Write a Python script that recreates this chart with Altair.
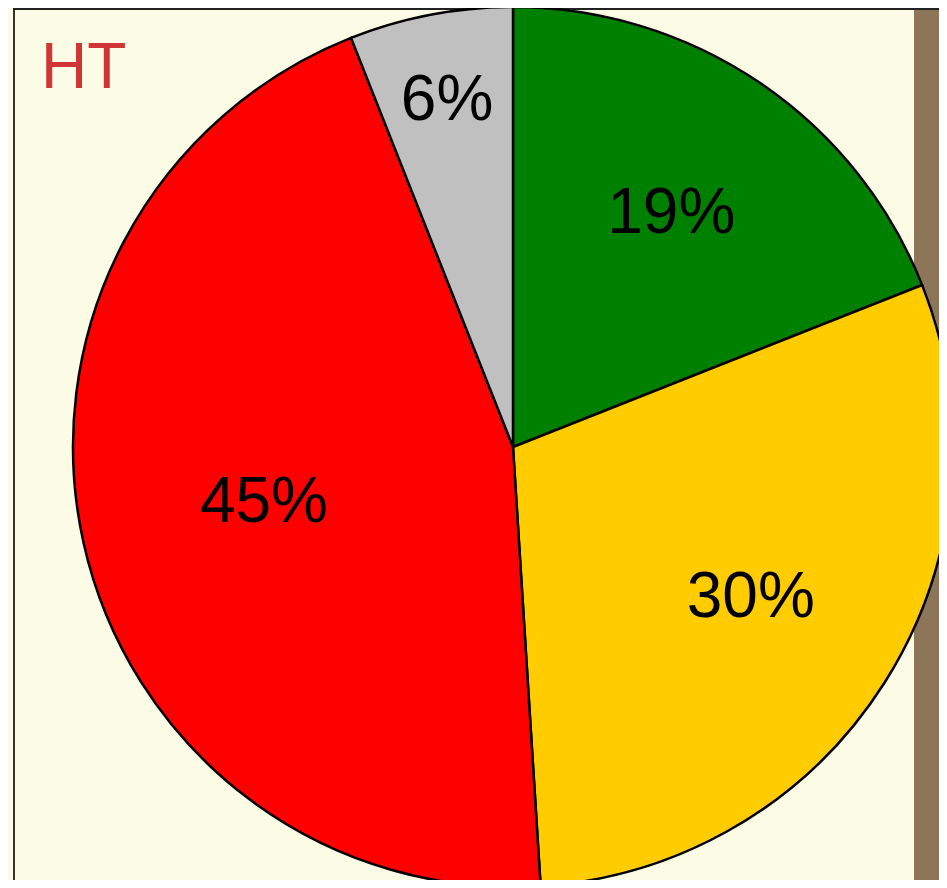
import altair as alt
import pandas as pd

# ---- data ----
categories = ["green", "yellow", "red", "grey"]
values = [19, 30, 45, 6]
colors = ["#008000", "#FFCC00", "#FF0000", "#C0C0C0"]
title_text = "HT"

df = pd.DataFrame({"cat": categories, "v": values, "idx": list(range(len(values)))})
one = pd.DataFrame({"a": [0]})

# ---- layout / style ----
W, H = 931, 872
CX, CY, R = 505, 439, 440
FONT = "Liberation Sans"
BG = "#FBFBE6"
BROWN = "#8C7559"

base = alt.Chart(df)

brown = alt.Chart(one).mark_rect(color=BROWN).encode(
    x=alt.value(906), x2=alt.value(W), y=alt.value(0), y2=alt.value(H)
)
left_line = alt.Chart(one).mark_rule(color="#333333", strokeWidth=2).encode(
    x=alt.value(6), y=alt.value(0), y2=alt.value(H)
)
top_line = alt.Chart(one).mark_rule(color="#222222", strokeWidth=2).encode(
    x=alt.value(5), x2=alt.value(W), y=alt.value(1)
)

pie = base.mark_arc(stroke="black", strokeWidth=2.5, radius=R).encode(
    theta=alt.Theta("v:Q", stack=True),
    order=alt.Order("idx:Q"),
    color=alt.Color("cat:N", scale=alt.Scale(domain=categories, range=colors), legend=None),
    x=alt.value(CX),
    y=alt.value(CY),
)

labels = (
    base.transform_stack(stack="v", groupby=[], as_=["t0", "t1"], sort=[alt.SortField("idx", order="ascending")])
    .transform_joinaggregate(total="sum(v)")
    .transform_calculate(
        label="datum.v + '%'",
        mid="(datum.t0 + datum.t1) / 2 / datum.total * 2 * PI",
        lr=f"datum.v < 10 ? {0.8 * R} : (datum.v > 40 ? {0.58 * R} : {0.64 * R})",
    )
    .mark_text(fontSize=64, font=FONT, color="black", baseline="middle", align="center")
    .encode(
        theta=alt.Theta("mid:Q", scale=None, stack=None),
        radius=alt.Radius("lr:Q", scale=None),
        text="label:N",
        x=alt.value(CX),
        y=alt.value(CY),
    )
)

title = alt.Chart(one).mark_text(
    text=title_text, fontSize=64, font=FONT, color="#D03434", align="left", baseline="alphabetic"
).encode(x=alt.value(33), y=alt.value(80))

chart = alt.layer(brown, left_line, top_line, pie, labels, title).properties(
    width=W, height=H, padding=0, autosize=alt.AutoSizeParams(type="none"), background=BG
).configure_view(stroke=None)

chart.save("out.html", embed_options={"renderer": "svg", "actions": False})
